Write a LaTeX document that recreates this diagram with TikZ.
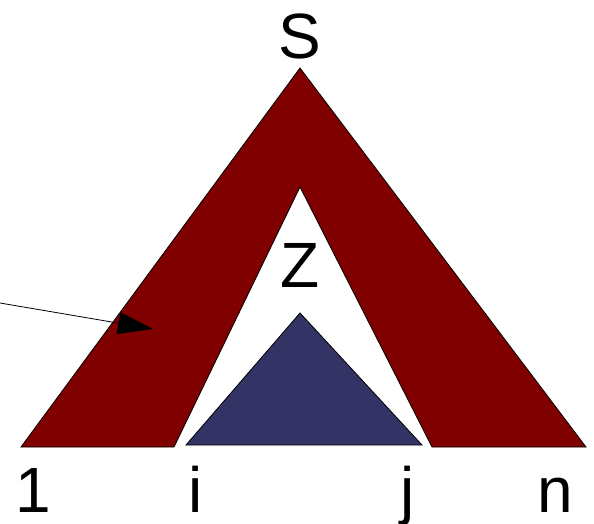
\documentclass[tikz,border=0pt]{standalone}
\usepackage{fontspec}
\setmainfont{Liberation Sans}
\usetikzlibrary{arrows.meta}
\definecolor{maroonred}{HTML}{800000}
\definecolor{navyblue}{HTML}{333366}
\begin{document}
\begin{tikzpicture}[x=1pt,y=-1pt,
  lbl/.style={inner sep=0pt,anchor=base,font=\fontsize{64}{64}\selectfont},
  outline/.style={draw=black,line width=0.8pt,line join=miter}]
\useasboundingbox (0,0) rectangle (594,524);
\fill[maroonred,outline] (21,447) -- (300,68) -- (586,447) -- (432,447) -- (300,187) -- (174,447) -- cycle;
\fill[navyblue,outline] (186,445) -- (300,313) -- (422,445) -- cycle;
\coordinate (src) at (0,303);
\coordinate (tip) at (153,329);
\draw[line width=0.8pt,-{Triangle[length=35pt,width=22pt]}] (src) -- (tip);
\node[lbl] (S) at (300,59) {S};
\node[lbl] (Z) at (300,287) {Z};
\node[lbl] (one) at (33,512) {1};
\node[lbl] (i) at (196,512) {i};
\node[lbl] (j) at (408,512) {j};
\node[lbl] (n) at (555,512) {n};
\end{tikzpicture}
\end{document}
